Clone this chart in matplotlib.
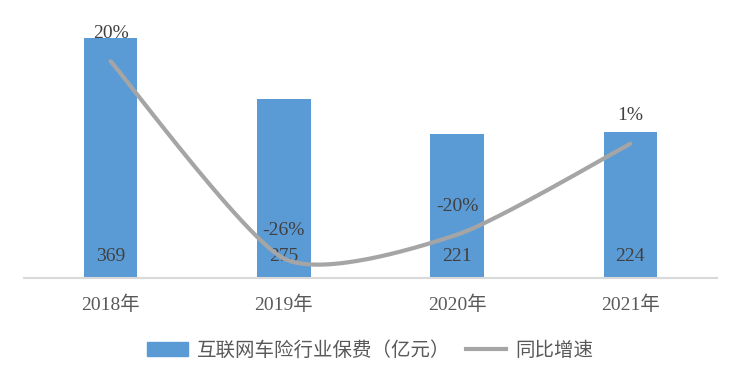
import numpy as np
import matplotlib.pyplot as plt
from matplotlib.lines import Line2D
from matplotlib.patches import Patch

years = ["2018年", "2019年", "2020年", "2021年"]
premium = [369, 275, 221, 224]          # 互联网车险行业保费（亿元）
growth = [0.20, -0.255, -0.20, 0.01]    # 同比增速
growth_labels = ["20%", "-26%", "-20%", "1%"]

bar_color = "#5b9bd5"
line_color = "#a5a5a5"
text_color = "#404040"
serif = ["Liberation Serif", "Noto Sans CJK SC"]
cjk = ["Noto Sans CJK SC", "DejaVu Sans"]


def smooth(xs, ys, sx, sy, f=0.11, n=60):
    # smoothed line (cubic bezier through the points), computed in pixel units
    px = np.array(xs, float) * sx
    py = np.array(ys, float) * sy
    pts = np.column_stack([px, py])
    out = []
    for i in range(len(pts) - 1):
        p0 = pts[i - 1] if i > 0 else pts[i]
        p1 = pts[i]
        p2 = pts[i + 1]
        p3 = pts[i + 2] if i + 2 < len(pts) else pts[i + 1]
        c1 = p1 + (p2 - p0) * f
        c2 = p2 - (p3 - p1) * f
        t = np.linspace(0, 1, n)[:, None]
        seg = (1 - t) ** 3 * p1 + 3 * (1 - t) ** 2 * t * c1 + 3 * (1 - t) * t ** 2 * c2 + t ** 3 * p2
        out.append(seg)
    out = np.vstack(out)
    return out[:, 0] / sx, out[:, 1] / sy


fig = plt.figure(figsize=(7.49, 3.74), dpi=100)
ax = fig.add_axes([24 / 749, 96 / 374, 693 / 749, 260 / 374])
x = np.arange(len(years))

ax.bar(x, premium, width=0.31, color=bar_color, zorder=2)
ax.set_xlim(-0.5, 3.5)
ax.set_ylim(0, 400)
for s in ["top", "left", "right"]:
    ax.spines[s].set_visible(False)
ax.spines["bottom"].set_color("#d9d9d9")
ax.spines["bottom"].set_linewidth(1.5)
ax.set_yticks([])
ax.set_xticks(x)
ax.set_xticklabels(years, family=serif, fontsize=14, color="#595959")
ax.tick_params(axis="x", length=0, pad=13)

for xi, v in zip(x, premium):
    ax.text(xi, 20, str(v), ha="center", va="bottom", fontsize=14,
            family=serif, color=text_color, zorder=4)

ax2 = ax.twinx()
ax2.set_ylim(-0.3, 0.3)
ax2.axis("off")
sx, sy = 693 / 4, 260 / 0.6
cx, cy = smooth(x, growth, sx, sy)
ax2.plot(cx, cy, color=line_color, lw=3, solid_capstyle="round", zorder=3)
for xi, g, lab in zip(x, growth, growth_labels):
    ax2.text(xi, g + 0.045, lab, ha="center", va="bottom", fontsize=14,
             family=serif, color=text_color, zorder=4)

handles = [Patch(color=bar_color), Line2D([], [], color=line_color, lw=3)]
leg = fig.legend(handles, ["互联网车险行业保费（亿元）", "同比增速"],
                 loc="center", bbox_to_anchor=(370 / 749, 1 - 350 / 374), ncol=2,
                 frameon=False, prop={"family": cjk, "size": 14},
                 handlelength=2.1, handletextpad=0.45, columnspacing=0.8)
for t in leg.get_texts():
    t.set_color("#595959")

fig.savefig("out.png", dpi=100)
